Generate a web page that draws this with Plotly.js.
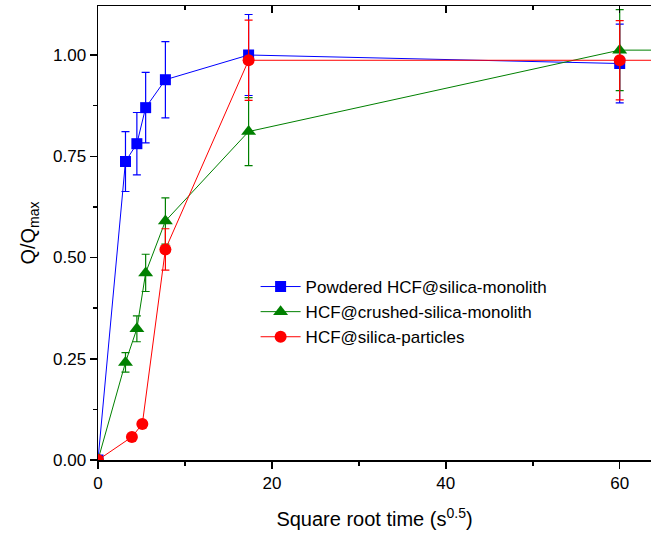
<!DOCTYPE html>
<html>
<head>
<meta charset="utf-8">
<script src="https://cdn.plot.ly/plotly-3.0.1.min.js"></script>
<style>html,body{margin:0;padding:0;overflow:hidden;background:#fff;}</style>
</head>
<body>
<div id="chart" style="width:651px;height:542px;"></div>
<script>
// Data
const seriesNames = ["Powdered HCF@silica-monolith", "HCF@crushed-silica-monolith", "HCF@silica-particles"];

const powderedX = [0, 3.16, 4.47, 5.48, 7.75, 17.32, 60];
const powderedY = [0, 0.737, 0.781, 0.870, 0.939, 1.000, 0.979];
const powderedErr = [0, 0.074, 0.077, 0.087, 0.094, 0.100, 0.097];

const crushedX = [0, 3.16, 4.47, 5.48, 7.75, 17.32, 60, 85];
const crushedY = [0, 0.241, 0.324, 0.462, 0.590, 0.811, 1.012, 1.012];
const crushedErr = [0, 0.024, 0.032, 0.046, 0.057, 0.084, 0.100, 0];

const particlesX = [0, 3.9, 5.1, 7.75, 17.32, 60, 85];
const particlesY = [0, 0.057, 0.089, 0.520, 0.987, 0.987, 0.987];
const particlesErr = [0, 0, 0, 0.051, 0.099, 0.098, 0];

const colors = ["#0000ff", "#008000", "#ff0000"];
const symbols = ["square", "triangle-up", "circle"];
const msizes = [11, 13, 12];

function mk(i, x, y, e) {
  return {
    type: "scatter", mode: "lines+markers", name: seriesNames[i],
    x: x, y: y, cliponaxis: true,
    line: {color: colors[i], width: 1},
    marker: {color: colors[i], symbol: symbols[i], size: msizes[i]},
    error_y: {type: "data", array: e, visible: true, color: colors[i], thickness: 1.2, width: 4}
  };
}

const data = [
  mk(0, powderedX, powderedY, powderedErr),
  mk(1, crushedX, crushedY, crushedErr),
  mk(2, particlesX, particlesY, particlesErr),
  {type: "scatter", x: [0], y: [0], xaxis: "x2", mode: "markers", marker: {opacity: 0}, showlegend: false, hoverinfo: "skip"}
];

const font = "Liberation Sans, Arial, sans-serif";
const layout = {
  width: 651, height: 542,
  margin: {l: 98, r: 0, t: 6, b: 82},
  paper_bgcolor: "#fff", plot_bgcolor: "#fff",
  font: {family: font, color: "#000"},
  showlegend: true,
  legend: {x: 0.285, y: 0.326, xanchor: "left", yanchor: "middle", font: {size: 17, family: font}, bgcolor: "rgba(0,0,0,0)", tracegroupgap: 0, itemwidth: 40},
  xaxis: {
    range: [0, 63.6], showgrid: false, zeroline: false,
    showline: true, linecolor: "#000", linewidth: 1.5, mirror: true,
    ticks: "outside", ticklen: 7, tickwidth: 1.5, tickcolor: "#000",
    tickvals: [0, 20, 40, 60], ticktext: ["0", "20", "40", "60"],
    tickfont: {size: 17, family: font},
    minor: {tickvals: [10, 30, 50], ticks: "outside", ticklen: 4, tickwidth: 1.5, tickcolor: "#000"},
    title: {text: "Square root time (s<sup>0.5</sup>)", font: {size: 20, family: font}, standoff: 20}
  },
  xaxis2: {
    overlaying: "x", side: "top", range: [0, 63.6], showgrid: false, zeroline: false,
    showticklabels: false, ticks: "inside", ticklen: 7, tickwidth: 1.5, tickcolor: "#000",
    tickvals: [0, 20, 40, 60],
    minor: {tickvals: [10, 30, 50], ticks: "inside", ticklen: 4, tickwidth: 1.5, tickcolor: "#000"}
  },
  yaxis: {
    range: [0, 1.121], showgrid: false, zeroline: false,
    showline: true, linecolor: "#000", linewidth: 1.5,
    ticks: "outside", ticklen: 7, tickwidth: 1.5, tickcolor: "#000",
    tickvals: [0, 0.25, 0.5, 0.75, 1.0], ticktext: ["0.00", "0.25", "0.50", "0.75", "1.00"],
    tickfont: {size: 17, family: font},
    minor: {tickvals: [0.125, 0.375, 0.625, 0.875, 1.125], ticks: "outside", ticklen: 4, tickwidth: 1.5, tickcolor: "#000"},
    title: {text: "Q/Q<sub>max</sub>", font: {size: 20, family: font}, standoff: 12}
  }
};

Plotly.newPlot("chart", data, layout, {displayModeBar: false, staticPlot: true});
</script>
</body>
</html>
